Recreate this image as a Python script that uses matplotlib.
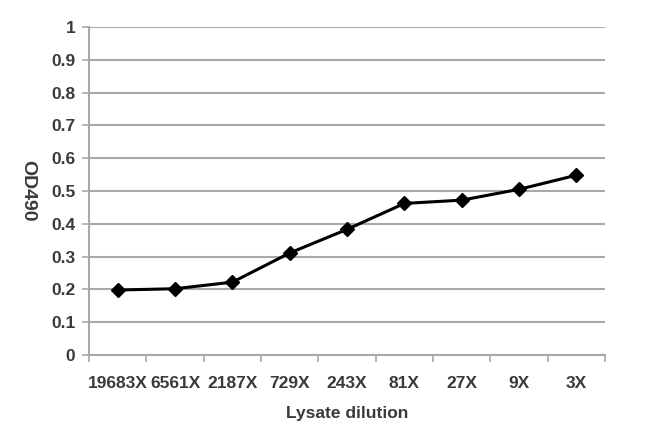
import matplotlib.pyplot as plt
import numpy as np

# data
dilutions = ["19683X", "6561X", "2187X", "729X", "243X", "81X", "27X", "9X", "3X"]
od490 = [0.198, 0.202, 0.222, 0.311, 0.383, 0.462, 0.472, 0.505, 0.548]
yticks = [0, 0.1, 0.2, 0.3, 0.4, 0.5, 0.6, 0.7, 0.8, 0.9, 1]
ytick_labels = ["0", "0.1", "0.2", "0.3", "0.4", "0.5", "0.6", "0.7", "0.8", "0.9", "1"]

plt.rcParams['font.family'] = ['Liberation Sans', 'DejaVu Sans']
txt = "#3a3a3a"
grid = "#a8a8a8"

fig = plt.figure(figsize=(6.5, 4.41), dpi=100)
ax = fig.add_axes([0.137, 0.195, 0.794, 0.744])

x = np.arange(len(dilutions))
ax.plot(x, od490, color="black", lw=2.2, marker="D", markersize=7, zorder=3)

ax.set_xlim(-0.5, len(dilutions) - 0.5)
ax.set_ylim(0, 1)
ax.set_yticks(yticks)
ax.set_yticklabels(ytick_labels)
ax.yaxis.grid(True, color=grid, lw=1.5)
ax.set_axisbelow(True)

ax.set_xticks(x)
ax.set_xticklabels(dilutions)
ax.set_xticks(np.arange(-0.5, len(dilutions), 1), minor=True)
ax.tick_params(axis="x", which="major", length=0, pad=15)
ax.tick_params(axis="x", which="minor", length=5, width=1.2, color=grid, direction="out")
ax.tick_params(axis="y", length=5, width=1.2, color=grid, pad=5)

for lbl in ax.get_xticklabels() + ax.get_yticklabels():
    lbl.set_fontsize(12.5)
    lbl.set_fontweight("bold")
    lbl.set_color(txt)

for s in ["top", "right"]:
    ax.spines[s].set_visible(False)
for s in ["left", "bottom"]:
    ax.spines[s].set_color(grid)
    ax.spines[s].set_linewidth(1.5)

ax.set_xlabel("Lysate dilution", fontsize=12.5, fontweight="bold", color=txt, labelpad=11)
ax.set_ylabel("OD490", fontsize=14, fontweight="bold", color=txt, rotation=270)
ax.yaxis.set_label_coords(-0.135, 0.5)

fig.savefig("out.png", dpi=100)
